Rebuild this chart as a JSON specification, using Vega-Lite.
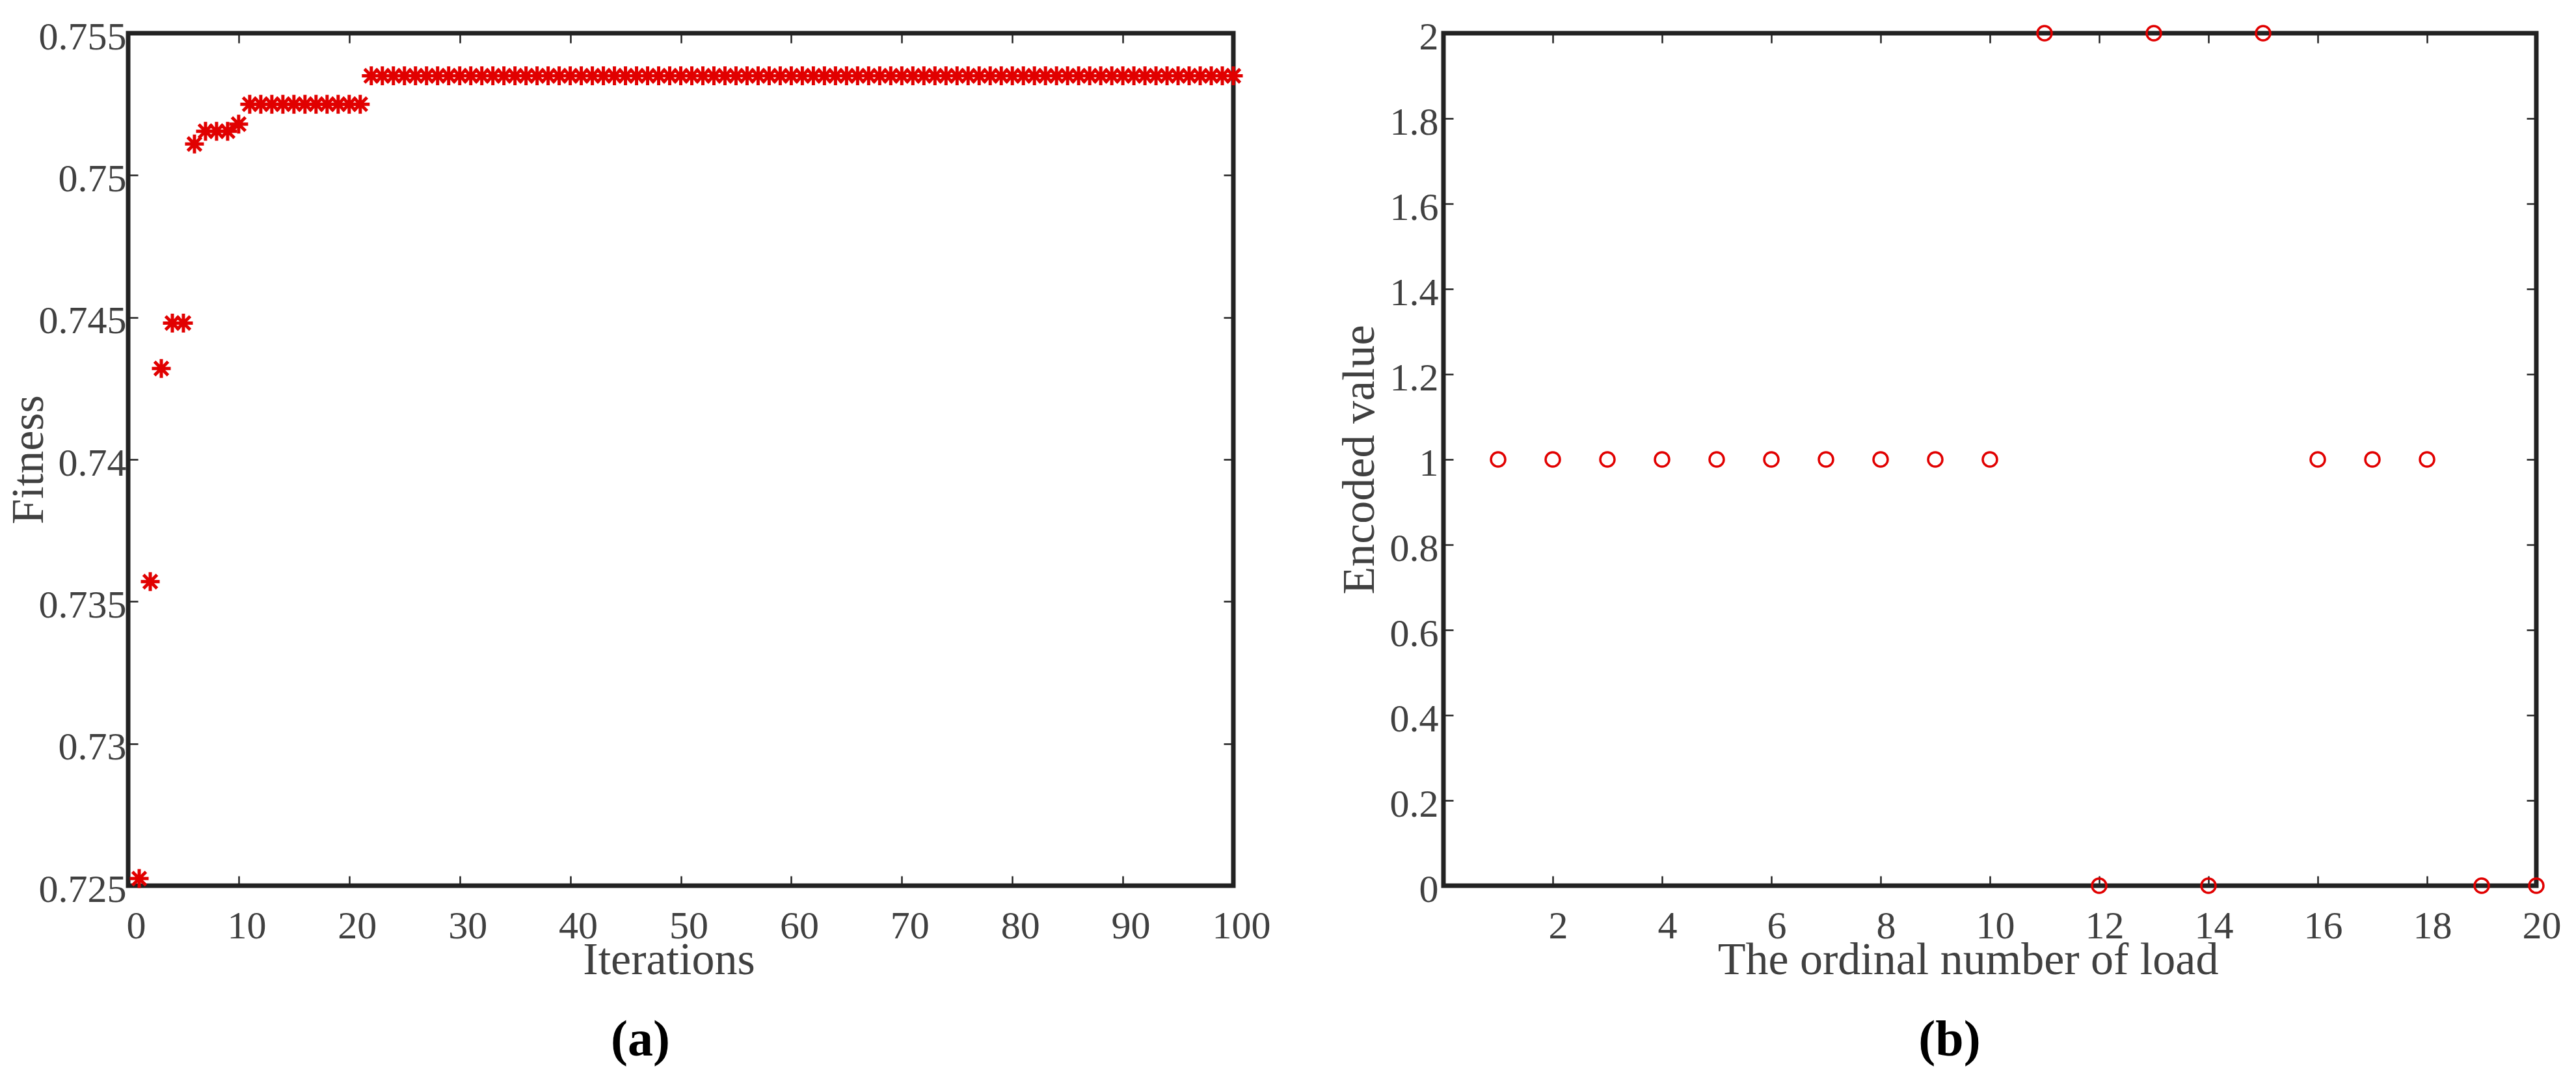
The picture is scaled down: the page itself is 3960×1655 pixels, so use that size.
{
  "$schema": "https://vega.github.io/schema/vega-lite/v6.json",
  "autosize": {"type": "pad"},
  "padding": {"left": 5, "top": 23, "right": 5, "bottom": 5},
  "background": "white",
  "config": {
    "view": {"stroke": "#222222", "strokeWidth": 7},
    "concat": {"spacing": 94},
    "axis": {
      "domain": false,
      "grid": false,
      "labelFont": "Liberation Serif",
      "labelFontSize": 60,
      "labelColor": "#404040",
      "labelFlush": false,
      "labelOverlap": false,
      "titleFont": "Liberation Serif",
      "titleFontSize": 70,
      "titleFontWeight": "normal",
      "titleColor": "#404040",
      "tickColor": "#222222",
      "tickWidth": 2.5,
      "tickSize": -15
    },
    "title": {"font": "Liberation Serif", "fontSize": 78, "fontWeight": "bold", "color": "#000000"}
  },
  "datasets": {
    "fitness": [
      {"iter": 1, "fitness": 0.72525},
      {"iter": 2, "fitness": 0.7357},
      {"iter": 3, "fitness": 0.7432},
      {"iter": 4, "fitness": 0.7448},
      {"iter": 5, "fitness": 0.7448},
      {"iter": 6, "fitness": 0.7511},
      {"iter": 7, "fitness": 0.75155},
      {"iter": 8, "fitness": 0.75155},
      {"iter": 9, "fitness": 0.75155},
      {"iter": 10, "fitness": 0.7518},
      {"iter": 11, "fitness": 0.7525},
      {"iter": 12, "fitness": 0.7525},
      {"iter": 13, "fitness": 0.7525},
      {"iter": 14, "fitness": 0.7525},
      {"iter": 15, "fitness": 0.7525},
      {"iter": 16, "fitness": 0.7525},
      {"iter": 17, "fitness": 0.7525},
      {"iter": 18, "fitness": 0.7525},
      {"iter": 19, "fitness": 0.7525},
      {"iter": 20, "fitness": 0.7525},
      {"iter": 21, "fitness": 0.7525},
      {"iter": 22, "fitness": 0.7535},
      {"iter": 23, "fitness": 0.7535},
      {"iter": 24, "fitness": 0.7535},
      {"iter": 25, "fitness": 0.7535},
      {"iter": 26, "fitness": 0.7535},
      {"iter": 27, "fitness": 0.7535},
      {"iter": 28, "fitness": 0.7535},
      {"iter": 29, "fitness": 0.7535},
      {"iter": 30, "fitness": 0.7535},
      {"iter": 31, "fitness": 0.7535},
      {"iter": 32, "fitness": 0.7535},
      {"iter": 33, "fitness": 0.7535},
      {"iter": 34, "fitness": 0.7535},
      {"iter": 35, "fitness": 0.7535},
      {"iter": 36, "fitness": 0.7535},
      {"iter": 37, "fitness": 0.7535},
      {"iter": 38, "fitness": 0.7535},
      {"iter": 39, "fitness": 0.7535},
      {"iter": 40, "fitness": 0.7535},
      {"iter": 41, "fitness": 0.7535},
      {"iter": 42, "fitness": 0.7535},
      {"iter": 43, "fitness": 0.7535},
      {"iter": 44, "fitness": 0.7535},
      {"iter": 45, "fitness": 0.7535},
      {"iter": 46, "fitness": 0.7535},
      {"iter": 47, "fitness": 0.7535},
      {"iter": 48, "fitness": 0.7535},
      {"iter": 49, "fitness": 0.7535},
      {"iter": 50, "fitness": 0.7535},
      {"iter": 51, "fitness": 0.7535},
      {"iter": 52, "fitness": 0.7535},
      {"iter": 53, "fitness": 0.7535},
      {"iter": 54, "fitness": 0.7535},
      {"iter": 55, "fitness": 0.7535},
      {"iter": 56, "fitness": 0.7535},
      {"iter": 57, "fitness": 0.7535},
      {"iter": 58, "fitness": 0.7535},
      {"iter": 59, "fitness": 0.7535},
      {"iter": 60, "fitness": 0.7535},
      {"iter": 61, "fitness": 0.7535},
      {"iter": 62, "fitness": 0.7535},
      {"iter": 63, "fitness": 0.7535},
      {"iter": 64, "fitness": 0.7535},
      {"iter": 65, "fitness": 0.7535},
      {"iter": 66, "fitness": 0.7535},
      {"iter": 67, "fitness": 0.7535},
      {"iter": 68, "fitness": 0.7535},
      {"iter": 69, "fitness": 0.7535},
      {"iter": 70, "fitness": 0.7535},
      {"iter": 71, "fitness": 0.7535},
      {"iter": 72, "fitness": 0.7535},
      {"iter": 73, "fitness": 0.7535},
      {"iter": 74, "fitness": 0.7535},
      {"iter": 75, "fitness": 0.7535},
      {"iter": 76, "fitness": 0.7535},
      {"iter": 77, "fitness": 0.7535},
      {"iter": 78, "fitness": 0.7535},
      {"iter": 79, "fitness": 0.7535},
      {"iter": 80, "fitness": 0.7535},
      {"iter": 81, "fitness": 0.7535},
      {"iter": 82, "fitness": 0.7535},
      {"iter": 83, "fitness": 0.7535},
      {"iter": 84, "fitness": 0.7535},
      {"iter": 85, "fitness": 0.7535},
      {"iter": 86, "fitness": 0.7535},
      {"iter": 87, "fitness": 0.7535},
      {"iter": 88, "fitness": 0.7535},
      {"iter": 89, "fitness": 0.7535},
      {"iter": 90, "fitness": 0.7535},
      {"iter": 91, "fitness": 0.7535},
      {"iter": 92, "fitness": 0.7535},
      {"iter": 93, "fitness": 0.7535},
      {"iter": 94, "fitness": 0.7535},
      {"iter": 95, "fitness": 0.7535},
      {"iter": 96, "fitness": 0.7535},
      {"iter": 97, "fitness": 0.7535},
      {"iter": 98, "fitness": 0.7535},
      {"iter": 99, "fitness": 0.7535},
      {"iter": 100, "fitness": 0.7535}
    ],
    "encoded": [
      {"load": 1, "value": 1},
      {"load": 2, "value": 1},
      {"load": 3, "value": 1},
      {"load": 4, "value": 1},
      {"load": 5, "value": 1},
      {"load": 6, "value": 1},
      {"load": 7, "value": 1},
      {"load": 8, "value": 1},
      {"load": 9, "value": 1},
      {"load": 10, "value": 1},
      {"load": 11, "value": 2},
      {"load": 12, "value": 0},
      {"load": 13, "value": 2},
      {"load": 14, "value": 0},
      {"load": 15, "value": 2},
      {"load": 16, "value": 1},
      {"load": 17, "value": 1},
      {"load": 18, "value": 1},
      {"load": 19, "value": 0},
      {"load": 20, "value": 0}
    ]
  },
  "hconcat": [
    {
      "width": 1699,
      "height": 1310,
      "data": {"name": "fitness"},
      "title": {"text": "(a)", "orient": "bottom", "anchor": "middle", "dx": -62, "offset": 50},
      "layer": [
        {
          "mark": {"type": "point", "shape": "M-1,0L1,0M0,-1L0,1M-0.72,-0.72L0.72,0.72M-0.72,0.72L0.72,-0.72", "filled": false, "color": "#e10000", "strokeWidth": 5, "size": 841, "opacity": 1, "clip": false},
          "encoding": {
            "x": {"field": "iter", "type": "quantitative", "scale": {"domain": [0, 100], "nice": false, "zero": false},
              "axis": {"orient": "bottom", "values": [0, 10, 20, 30, 40, 50, 60, 70, 80, 90, 100], "labelPadding": 48, "labelOffset": 12, "title": "Iterations", "titleX": 831, "titleY": 135, "titleBaseline": "alphabetic", "titleAlign": "center"}},
            "y": {"field": "fitness", "type": "quantitative", "scale": {"domain": [0.725, 0.755], "nice": false, "zero": false},
              "axis": {"orient": "left", "values": [0.725, 0.73, 0.735, 0.74, 0.745, 0.75, 0.755], "format": "~g", "labelPadding": 18, "labelOffset": 6, "title": "Fitness", "titleX": -132, "titleY": 655, "titleAngle": -90, "titleBaseline": "alphabetic", "titleAlign": "center"}}
          }
        },
        {
          "mark": {"type": "point", "opacity": 0},
          "encoding": {
            "x": {"field": "iter", "type": "quantitative", "scale": {"domain": [0, 100], "nice": false, "zero": false},
              "axis": {"orient": "top", "values": [0, 10, 20, 30, 40, 50, 60, 70, 80, 90, 100], "labels": false, "title": null}},
            "y": {"field": "fitness", "type": "quantitative", "scale": {"domain": [0.725, 0.755], "nice": false, "zero": false},
              "axis": {"orient": "right", "values": [0.725, 0.73, 0.735, 0.74, 0.745, 0.75, 0.755], "labels": false, "title": null}}
          }
        }
      ],
      "resolve": {"scale": {"x": "independent", "y": "independent"}, "axis": {"x": "independent", "y": "independent"}}
    },
    {
      "width": 1680,
      "height": 1310,
      "data": {"name": "encoded"},
      "title": {"text": "(b)", "orient": "bottom", "anchor": "middle", "dx": -62, "offset": 50},
      "layer": [
        {
          "mark": {"type": "point", "shape": "circle", "filled": false, "color": "#e10000", "strokeWidth": 3.5, "size": 484, "opacity": 1, "clip": false},
          "encoding": {
            "x": {"field": "load", "type": "quantitative", "scale": {"domain": [0, 20], "nice": false, "zero": false},
              "axis": {"orient": "bottom", "values": [2, 4, 6, 8, 10, 12, 14, 16, 18, 20], "labelPadding": 48, "labelOffset": 8, "title": "The ordinal number of load", "titleX": 806, "titleY": 135, "titleBaseline": "alphabetic", "titleAlign": "center"}},
            "y": {"field": "value", "type": "quantitative", "scale": {"domain": [0, 2], "nice": false, "zero": false},
              "axis": {"orient": "left", "values": [0, 0.2, 0.4, 0.6, 0.8, 1, 1.2, 1.4, 1.6, 1.8, 2], "format": "~g", "labelPadding": 23, "labelOffset": 6, "title": "Encoded value", "titleX": -108, "titleY": 655, "titleAngle": -90, "titleBaseline": "alphabetic", "titleAlign": "center"}}
          }
        },
        {
          "mark": {"type": "point", "opacity": 0},
          "encoding": {
            "x": {"field": "load", "type": "quantitative", "scale": {"domain": [0, 20], "nice": false, "zero": false},
              "axis": {"orient": "top", "values": [2, 4, 6, 8, 10, 12, 14, 16, 18, 20], "labels": false, "title": null}},
            "y": {"field": "value", "type": "quantitative", "scale": {"domain": [0, 2], "nice": false, "zero": false},
              "axis": {"orient": "right", "values": [0, 0.2, 0.4, 0.6, 0.8, 1, 1.2, 1.4, 1.6, 1.8, 2], "labels": false, "title": null}}
          }
        }
      ],
      "resolve": {"scale": {"x": "independent", "y": "independent"}, "axis": {"x": "independent", "y": "independent"}}
    }
  ]
}
